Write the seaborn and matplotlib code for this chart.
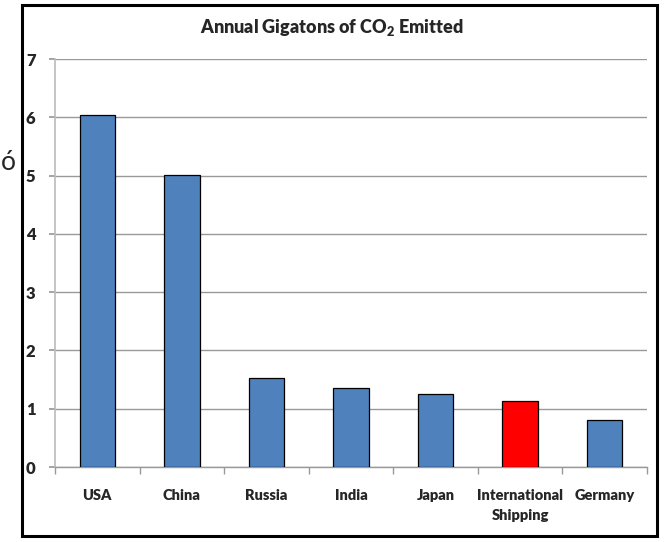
import matplotlib
matplotlib.use("Agg")
import matplotlib.pyplot as plt
import seaborn as sns
import pandas as pd
from matplotlib.patches import Rectangle

countries = ["USA", "China", "Russia", "India", "Japan", "International\nShipping", "Germany"]
gigatons = [6.04, 5.01, 1.52, 1.35, 1.25, 1.13, 0.81]
bar_colors = ["#4F81BD", "#4F81BD", "#4F81BD", "#4F81BD", "#4F81BD", "#FF0000", "#4F81BD"]
y_ticks = [0, 1, 2, 3, 4, 5, 6, 7]

sns.set_theme(style="white")
plt.rcParams["font.family"] = ["Lato", "DejaVu Sans"]
plt.rcParams["mathtext.fontset"] = "custom"
plt.rcParams["mathtext.bf"] = "Lato:heavy"
plt.rcParams["mathtext.rm"] = "Lato"

WEIGHT = "heavy"

df = pd.DataFrame({"country": countries, "gt": gigatons})

W, H = 664, 542
fig = plt.figure(figsize=(W / 100, H / 100), dpi=100)
ax = fig.add_axes([55 / W, 1 - 467 / H, (647 - 55) / W, (467 - 59) / H])

sns.barplot(data=df, x="country", y="gt", hue="country", palette=bar_colors,
            legend=False, width=0.42, edgecolor="black", linewidth=0.9,
            saturation=1, ax=ax, zorder=3)

ax.set_ylim(0, 7)
ax.set_xlim(-0.5, len(countries) - 0.5)
ax.yaxis.grid(True, color="#999999", linewidth=1.0, zorder=0)
ax.xaxis.grid(False)
ax.set_xlabel("")
ax.set_ylabel("")

for side in ["top", "right"]:
    ax.spines[side].set_visible(False)
ax.spines["left"].set_color("#BBBBBB")
ax.spines["bottom"].set_color("#999999")
ax.spines["left"].set_linewidth(1.2)
ax.spines["bottom"].set_linewidth(1.0)

ax.set_yticks(y_ticks)
ax.set_yticklabels([str(t) for t in y_ticks], fontweight=WEIGHT, fontsize=12)
ax.tick_params(axis="y", which="major", left=True, length=4, color="#999999", pad=10)

# category boundary ticks on the x axis
ax.set_xticks([i - 0.5 for i in range(len(countries) + 1)], minor=True)
ax.tick_params(axis="x", which="minor", bottom=True, length=5, color="#999999", direction="out")
ax.set_xticks(range(len(countries)))
ax.set_xticklabels(countries, fontweight=WEIGHT, fontsize=10.5, linespacing=1.65)
ax.tick_params(axis="x", which="major", bottom=False, length=0, pad=16)

fig.text(0.5, 1 - 27 / H, "Annual Gigatons of CO$_\\mathbf{2}$ Emitted",
         ha="center", va="center", fontsize=13, fontweight=WEIGHT)

# outer chart frame
fig.patches.append(Rectangle((22 / W, 1 - 536 / H), (657 - 22) / W, (536 - 5) / H,
                             transform=fig.transFigure, fill=False,
                             edgecolor="black", linewidth=2.2))

fig.text(1 / W, 1 - 163 / H, "ó", ha="left", va="center", fontsize=19)

fig.savefig("out.png", dpi=100)
